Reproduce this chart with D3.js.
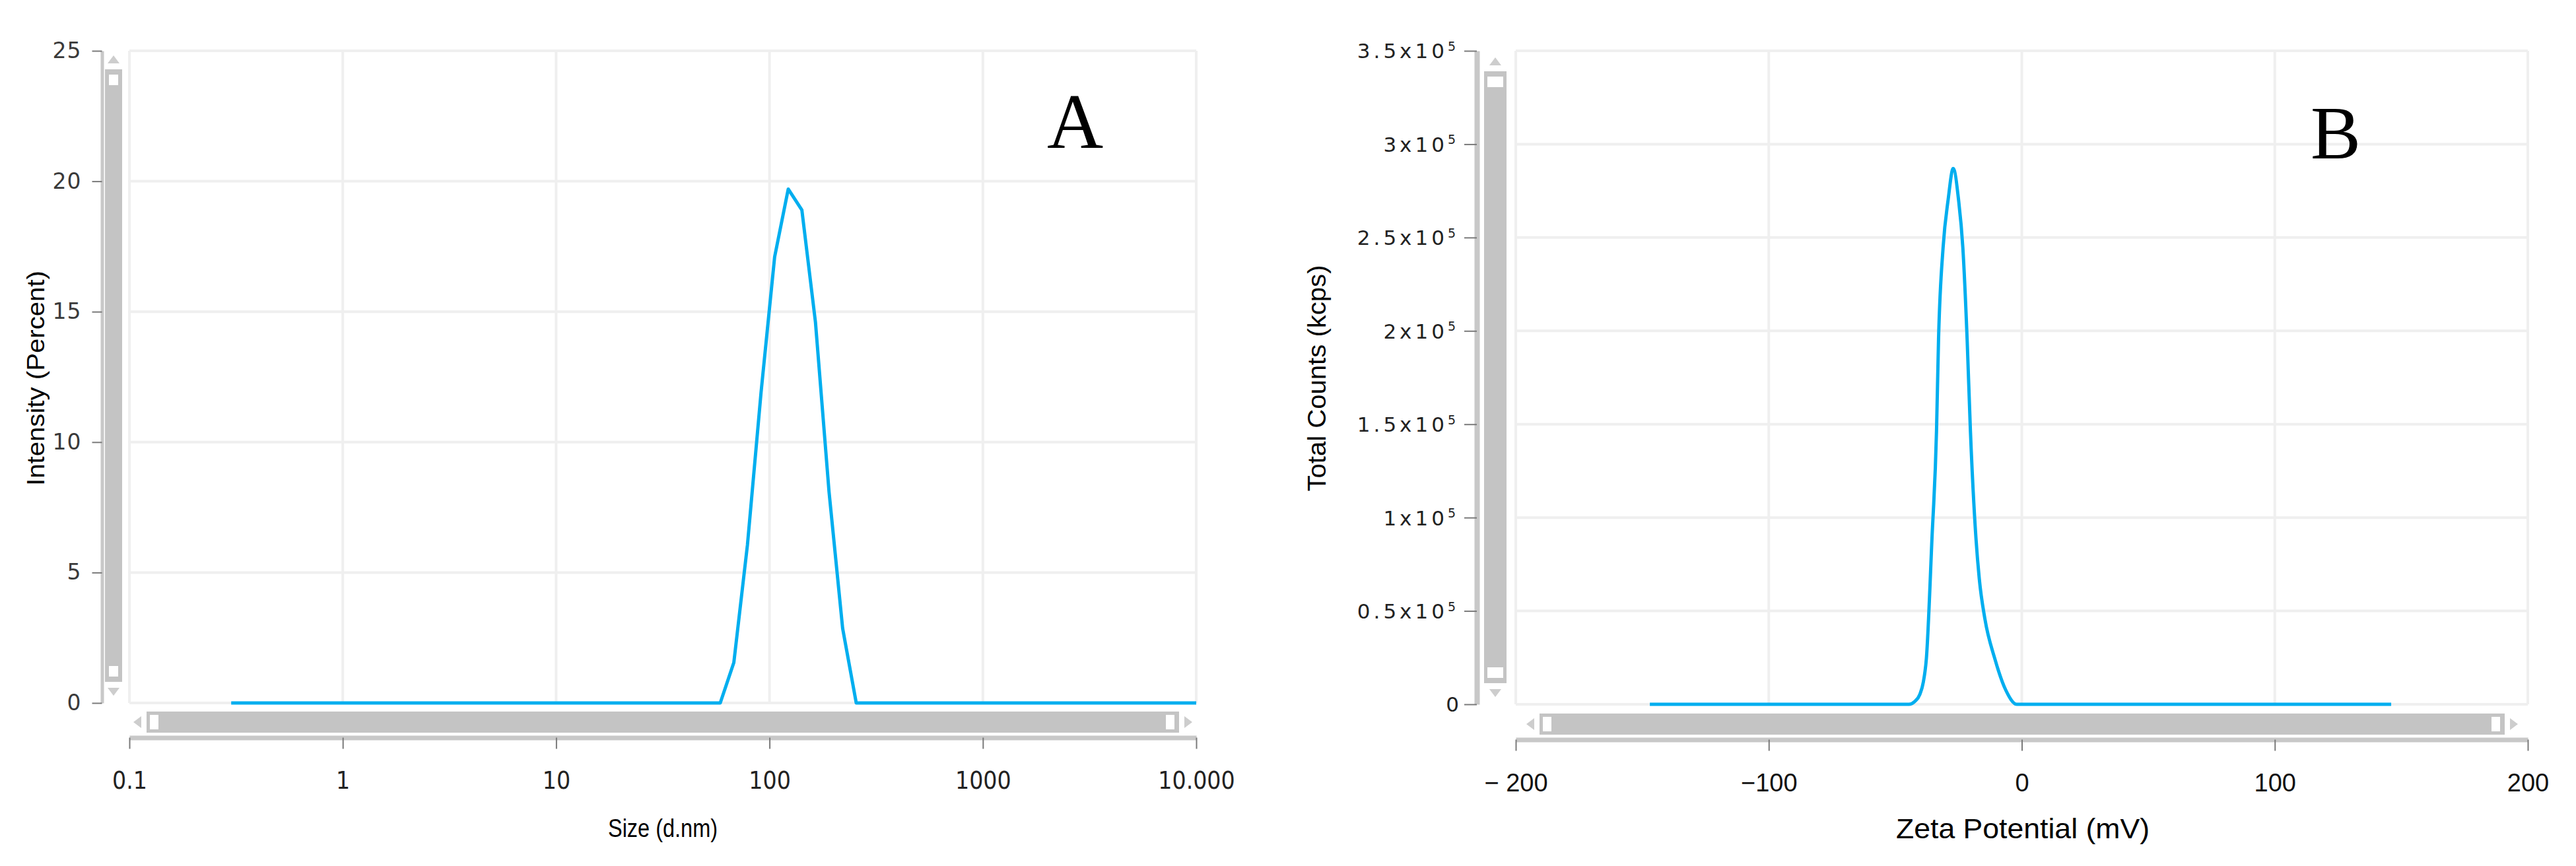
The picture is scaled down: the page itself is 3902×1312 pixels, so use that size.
<!DOCTYPE html>
<html lang="en">
<head>
  <meta charset="UTF-8" />
  <title>Size distribution and zeta potential</title>
  <style>
    body {
      margin: 0;
      background: #fff;
      font-family: "Liberation Sans", Arial, sans-serif;
    }
    svg { display: block; }
    .grid line { stroke: #efefef; stroke-width: 4px; }
    .axis .domain { stroke: #c8c8c8; }
    .axis .tick line { stroke: #7a7a7a; stroke-width: 2px; }
    .scroll { fill: #c4c4c4; }
    .handle { fill: #fff; }
    .arrow { fill: #cdcdcd; }
    .trace { fill: none; stroke: #00aeef; stroke-width: 5px; stroke-linejoin: round; }
  </style>
</head>
<body>
  <svg width="3902" height="1312"></svg>

  <script src="https://cdnjs.cloudflare.com/ajax/libs/d3/7.8.5/d3.min.js"></script>
  <script>
    // Panel A: size distribution by intensity
    const sizeNm = [0.3, 58.77, 68.06, 78.82, 91.28, 105.7, 122.4, 141.8, 164.2, 190.1, 220.2, 255.0, 10000];
    const intensityPct = [0, 0, 1.55, 6.06, 11.9, 17.1, 19.7, 18.9, 14.6, 8.1, 2.86, 0, 0];
    const sizeTicks = [0.1, 1, 10, 100, 1000, 10000];
    const sizeTickLabels = ["0.1", "1", "10", "100", "1000", "10.000"];
    const intensityTicks = [0, 5, 10, 15, 20, 25];

    // Panel B: zeta potential distribution
    const zetaMv = [-147, -44.6, -42.3, -40.3, -38.9, -37.7, -35.5, -33.7, -32.9, -31.1, -29.1, -27.1,
                    -25.0, -23.3, -21.6, -20.3, -18.1, -16.8, -14.6, -10.7, -6.3, -2.0, 146];
    const totalCounts = [0, 0, 1500, 5300, 12000, 24600, 88700, 146400, 195500, 244700, 270300, 287000,
                         270300, 244700, 195500, 146400, 88700, 67300, 45900, 24600, 7500, 0, 0];
    const zetaTicks = [-200, -100, 0, 100, 200];
    const zetaTickLabels = ["\u2212 200", "\u2212100", "0", "100", "200"];
    const countTicks = [0, 0.5e5, 1e5, 1.5e5, 2e5, 2.5e5, 3e5, 3.5e5];
    const countTickLabels = ["0", "0.5x10", "1x10", "1.5x10", "2x10", "2.5x10", "3x10", "3.5x10"];

    const svg = d3.select("svg");

    // fake scrollbars that the instrument software draws beside each axis
    function scrollbars(g, v, h) {
      g.append("rect").attr("class", "scroll")
        .attr("x", v.x).attr("y", v.y0).attr("width", v.w).attr("height", v.y1 - v.y0);
      g.append("rect").attr("class", "handle")
        .attr("x", v.x + v.pad).attr("y", v.y0 + 8).attr("width", v.w - 2 * v.pad).attr("height", 16);
      g.append("rect").attr("class", "handle")
        .attr("x", v.x + v.pad).attr("y", v.y1 - 24).attr("width", v.w - 2 * v.pad).attr("height", 16);
      const cx = v.x + v.w / 2;
      g.append("path").attr("class", "arrow")
        .attr("d", `M${cx - 9},${v.y0 - 9} L${cx + 9},${v.y0 - 9} L${cx},${v.y0 - 21} Z`);
      g.append("path").attr("class", "arrow")
        .attr("d", `M${cx - 9},${v.y1 + 9} L${cx + 9},${v.y1 + 9} L${cx},${v.y1 + 21} Z`);

      g.append("rect").attr("class", "scroll")
        .attr("x", h.x0).attr("y", h.y).attr("width", h.x1 - h.x0).attr("height", h.h);
      g.append("rect").attr("class", "handle")
        .attr("x", h.x0 + 5).attr("y", h.y + 5).attr("width", 13).attr("height", h.h - 10);
      g.append("rect").attr("class", "handle")
        .attr("x", h.x1 - 20).attr("y", h.y + 5).attr("width", 13).attr("height", h.h - 10);
      const cy = h.y + h.h / 2;
      g.append("path").attr("class", "arrow")
        .attr("d", `M${h.x0 - 8},${cy - 9} L${h.x0 - 8},${cy + 9} L${h.x0 - 20},${cy} Z`);
      g.append("path").attr("class", "arrow")
        .attr("d", `M${h.x1 + 8},${cy - 9} L${h.x1 + 8},${cy + 9} L${h.x1 + 20},${cy} Z`);
    }

    function grid(g, x, y, xt, yt) {
      const gg = g.append("g").attr("class", "grid");
      gg.selectAll(".gx").data(xt).join("line")
        .attr("x1", d => x(d)).attr("x2", d => x(d))
        .attr("y1", y.range()[0]).attr("y2", y.range()[1]);
      gg.selectAll(".gy").data(yt).join("line")
        .attr("y1", d => y(d)).attr("y2", d => y(d))
        .attr("x1", x.range()[0]).attr("x2", x.range()[1]);
    }

    // ---------- Panel A ----------
    {
      const x = d3.scaleLog().domain([0.1, 10000]).range([196, 1812]);
      const y = d3.scaleLinear().domain([0, 25]).range([1065, 77]);
      const g = svg.append("g");

      grid(g, x, y, sizeTicks, intensityTicks);

      scrollbars(g,
        { x: 159, y0: 105, y1: 1033, w: 26, pad: 6 },
        { x0: 222, x1: 1786, y: 1078, h: 32 });

      const ya = g.append("g").attr("class", "axis")
        .attr("transform", "translate(154.5,0)")
        .call(d3.axisLeft(y).tickValues(intensityTicks).tickSize(15).tickSizeOuter(0).tickPadding(16));
      ya.select(".domain").attr("stroke-width", 5);
      ya.selectAll("text").attr("font-size", 33).attr("fill", "#3a3a3a")
        .attr("font-family", "'DejaVu Sans', sans-serif").attr("letter-spacing", 1);

      const xa = g.append("g").attr("class", "axis")
        .attr("transform", "translate(0,1117.5)")
        .call(d3.axisBottom(x).tickValues(sizeTicks).tickFormat((d, i) => sizeTickLabels[i])
          .tickSize(17).tickSizeOuter(0));
      xa.select(".domain").attr("stroke-width", 7);
      xa.selectAll("text").attr("font-size", 37).attr("fill", "#222")
        .attr("font-family", "'Liberation Sans Narrow', 'DejaVu Sans Condensed', sans-serif")
        .attr("font-stretch", "condensed")
        .attr("y", 77.5).attr("dy", 0);

      const line = d3.line().x((d, i) => x(sizeNm[i])).y(d => y(d));
      g.append("path").attr("class", "trace").attr("d", line(intensityPct));

      g.append("text").attr("x", 1004).attr("y", 1268)
        .attr("text-anchor", "middle").attr("font-size", 38)
        .attr("textLength", 166).attr("lengthAdjust", "spacingAndGlyphs")
        .text("Size (d.nm)");

      g.append("text").attr("transform", "translate(67,573) rotate(-90)")
        .attr("text-anchor", "middle").attr("font-size", 36)
        .attr("textLength", 326).attr("lengthAdjust", "spacingAndGlyphs")
        .text("Intensity (Percent)");

      g.append("text").attr("x", 1586).attr("y", 224)
        .attr("font-family", "'Liberation Serif', 'Times New Roman', serif")
        .attr("font-size", 118).text("A");
    }

    // ---------- Panel B ----------
    {
      const x = d3.scaleLinear().domain([-200, 200]).range([2296, 3829]);
      const y = d3.scaleLinear().domain([0, 3.5e5]).range([1067, 77]);
      const g = svg.append("g");

      grid(g, x, y, zetaTicks, countTicks);

      scrollbars(g,
        { x: 2248, y0: 108, y1: 1035, w: 34, pad: 5 },
        { x0: 2332, x1: 3794, y: 1081, h: 32 });

      const ya = g.append("g").attr("class", "axis")
        .attr("transform", "translate(2237,0)")
        .call(d3.axisLeft(y).tickValues(countTicks).tickFormat(() => "")
          .tickSize(19).tickSizeOuter(0));
      ya.select(".domain").attr("stroke-width", 8);
      ya.selectAll(".tick").each(function(d, i) {
        const t = d3.select(this).append("text")
          .attr("x", -27).attr("dy", "0.35em")
          .attr("text-anchor", "end")
          .attr("font-family", "'DejaVu Sans', sans-serif")
          .attr("font-size", 31).attr("fill", "#222")
          .attr("letter-spacing", i === 0 ? 0 : 5);
        t.append("tspan").text(countTickLabels[i]);
        if (i > 0) {
          t.append("tspan").attr("font-size", 19).attr("dy", "-0.6em").text("5");
        }
      });

      const xa = g.append("g").attr("class", "axis")
        .attr("transform", "translate(0,1120.5)")
        .call(d3.axisBottom(x).tickValues(zetaTicks).tickFormat((d, i) => zetaTickLabels[i])
          .tickSize(17).tickSizeOuter(0));
      xa.select(".domain").attr("stroke-width", 7);
      xa.selectAll("text").attr("font-size", 38).attr("fill", "#111")
        .attr("font-family", "'Liberation Sans', Arial, sans-serif")
        .attr("y", 78.5).attr("dy", 0);

      const line = d3.line().x((d, i) => x(zetaMv[i])).y(d => y(d)).curve(d3.curveMonotoneX);
      g.append("path").attr("class", "trace").attr("d", line(totalCounts));

      g.append("text").attr("x", 3064).attr("y", 1270)
        .attr("text-anchor", "middle").attr("font-size", 42)
        .attr("textLength", 384).attr("lengthAdjust", "spacingAndGlyphs")
        .text("Zeta Potential (mV)");

      g.append("text").attr("transform", "translate(2008,573) rotate(-90)")
        .attr("text-anchor", "middle").attr("font-size", 39)
        .attr("textLength", 343).attr("lengthAdjust", "spacingAndGlyphs")
        .text("Total Counts (kcps)");

      g.append("text").attr("x", 3500).attr("y", 240)
        .attr("font-family", "'Liberation Serif', 'Times New Roman', serif")
        .attr("font-size", 114).text("B");
    }
  </script>
</body>
</html>
